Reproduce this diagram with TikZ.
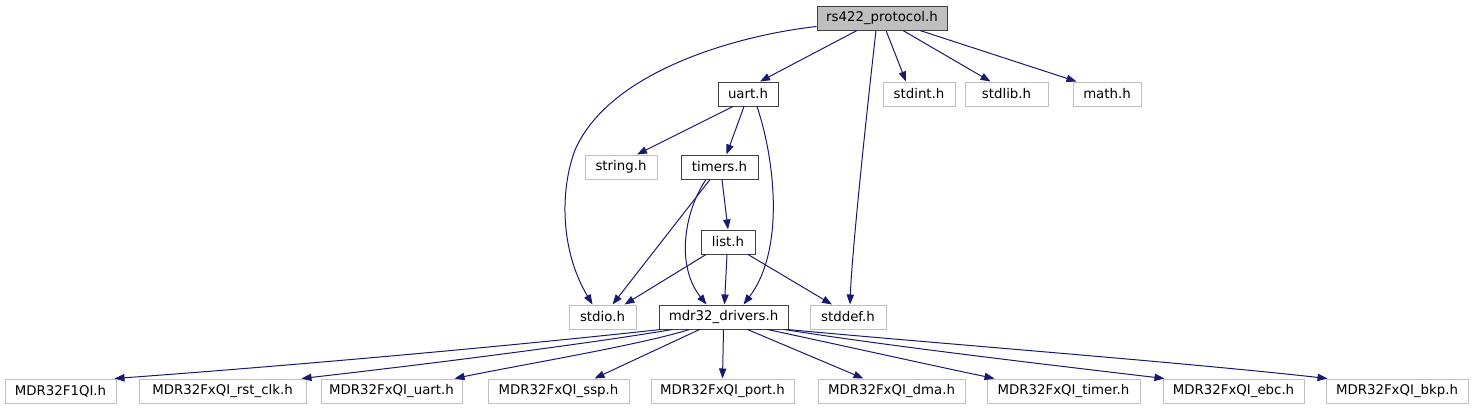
\documentclass[tikz,border=0pt]{standalone}
\usepackage{fontspec}
\setmainfont{DejaVu Sans}
\usetikzlibrary{arrows.meta,calc}
\definecolor{edgeblue}{HTML}{191970}
\definecolor{extgray}{HTML}{BFBFBF}
\definecolor{rootfill}{HTML}{BFBFBF}
\definecolor{docborder}{HTML}{404040}
\begin{document}
\begin{tikzpicture}[x=0.75pt,y=-0.75pt,
  box/.style={draw, line width=0.75pt, inner sep=0pt, minimum height=18pt, font=\fontsize{10pt}{12pt}\selectfont, text=black, fill=white},
  ext/.style={box, draw=extgray},
  doc/.style={box, draw=docborder},
  root/.style={box, draw=docborder, fill=rootfill},
  edge/.style={draw=edgeblue, line width=0.75pt, fill=none, arrows={-{Triangle[length=7.5pt,width=5.5pt,fill=edgeblue]}}}
]
\useasboundingbox (0,0) rectangle (1473,411);
% nodes
\node[root, minimum width=97.5pt] (rs) at (882,18) {rs422\_protocol.h};
\node[doc, minimum width=45pt] (uart) at (748,94) {uart.h};
\node[ext, minimum width=54pt] (stdint) at (919,94) {stdint.h};
\node[ext, minimum width=62.25pt] (stdlib) at (1006.5,94) {stdlib.h};
\node[ext, minimum width=51pt] (math) at (1107,94) {math.h};
\node[ext, minimum width=54pt] (string) at (621,167) {string.h};
\node[doc, minimum width=57.75pt] (timers) at (719.5,167) {timers.h};
\node[doc, minimum width=40.5pt] (list) at (728,242) {list.h};
\node[ext, minimum width=50.25pt] (stdio) at (602.5,317) {stdio.h};
\node[doc, minimum width=96.75pt] (md) at (723.5,317) {mdr32\_drivers.h};
\node[ext, minimum width=57pt] (stddef) at (848,317) {stddef.h};
\node[ext, minimum width=83.25pt] (f1) at (60.5,391) {MDR32F1QI.h};
\node[ext, minimum width=125.25pt] (rst) at (222.5,391) {MDR32FxQI\_rst\_clk.h};
\node[ext, minimum width=105.75pt] (muart) at (391.5,391) {MDR32FxQI\_uart.h};
\node[ext, minimum width=105.75pt] (ssp) at (558.5,391) {MDR32FxQI\_ssp.h};
\node[ext, minimum width=107.25pt] (port) at (722.5,391) {MDR32FxQI\_port.h};
\node[ext, minimum width=110.25pt] (dma) at (891.5,391) {MDR32FxQI\_dma.h};
\node[ext, minimum width=114.75pt] (timer) at (1063.5,391) {MDR32FxQI\_timer.h};
\node[ext, minimum width=105.75pt] (ebc) at (1233.5,391) {MDR32FxQI\_ebc.h};
\node[ext, minimum width=106.5pt] (bkp) at (1397,391) {MDR32FxQI\_bkp.h};
% edges from rs422
\draw[edge] ($(rs.south)+(-25,0)$) -- ($(uart.north)+(12,0)$);
\draw[edge] ($(rs.south west)+(0,-4)$) .. controls (740,35) and (610,70) .. (575,150) .. controls (560,190) and (560,250) .. ($(stdio.north)+(-10,0)$);
\draw[edge] ($(rs.south)+(-6,0)$) .. controls (868,100) and (852,250) .. ($(stddef.north)+(2,0)$);
\draw[edge] ($(rs.south)+(4,0)$) -- ($(stdint.north)+(-13,0)$);
\draw[edge] ($(rs.south)+(21,0)$) -- ($(stdlib.north)+(-16,0)$);
\draw[edge] ($(rs.south)+(38,0)$) -- ($(math.north west)+(4,0)$);
% uart
\draw[edge] ($(uart.south)+(-15,0)$) -- ($(string.north)+(16,0)$);
\draw[edge] ($(uart.south)+(-4,0)$) -- ($(timers.north)+(7,0)$);
\draw[edge] ($(uart.south)+(9,0)$) .. controls (775,160) and (785,250) .. ($(md.north)+(20,0)$);
% timers
\draw[edge] ($(timers.south)+(2.5,0)$) -- (list.north);
\draw[edge] ($(timers.south)+(-9.5,0)$) -- ($(stdio.north)+(10,0)$);
\draw[edge] ($(timers.south)+(-13.5,0)$) .. controls (685,210) and (675,265) .. ($(md.north)+(-17,0)$);
% list
\draw[edge] ($(list.south)+(-22,0)$) -- ($(stdio.north)+(22,0)$);
\draw[edge] ($(list.south)+(-1,0)$) -- ($(md.north)+(1,0)$);
\draw[edge] ($(list.south)+(20,0)$) -- ($(stddef.north)+(-16,0)$);
% mdr32
\draw[edge] ($(md.south west)+(2,0)$) .. controls (520,345) and (300,365) .. ($(f1.north east)+(-2,0)$);
\draw[edge] ($(md.south west)+(14,0)$) .. controls (580,345) and (420,365) .. ($(rst.north east)+(-5,0)$);
\draw[edge] ($(md.south)+(-34,0)$) .. controls (640,345) and (520,365) .. ($(muart.north east)+(-8,0)$);
\draw[edge] ($(md.south)+(-24,0)$) -- ($(ssp.north)+(36,0)$);
\draw[edge] (md.south) -- (port.north);
\draw[edge] ($(md.south)+(24,0)$) -- ($(dma.north west)+(46,0)$);
\draw[edge] ($(md.south)+(44,0)$) .. controls (840,345) and (930,365) .. ($(timer.north west)+(8,0)$);
\draw[edge] ($(md.south east)+(-4,0)$) .. controls (880,345) and (1050,365) .. ($(ebc.north west)+(2,0)$);
\draw[edge] ($(md.south east)+(-1,0)$) .. controls (920,342) and (1180,362) .. ($(bkp.north west)+(2,0)$);
\end{tikzpicture}
\end{document}
